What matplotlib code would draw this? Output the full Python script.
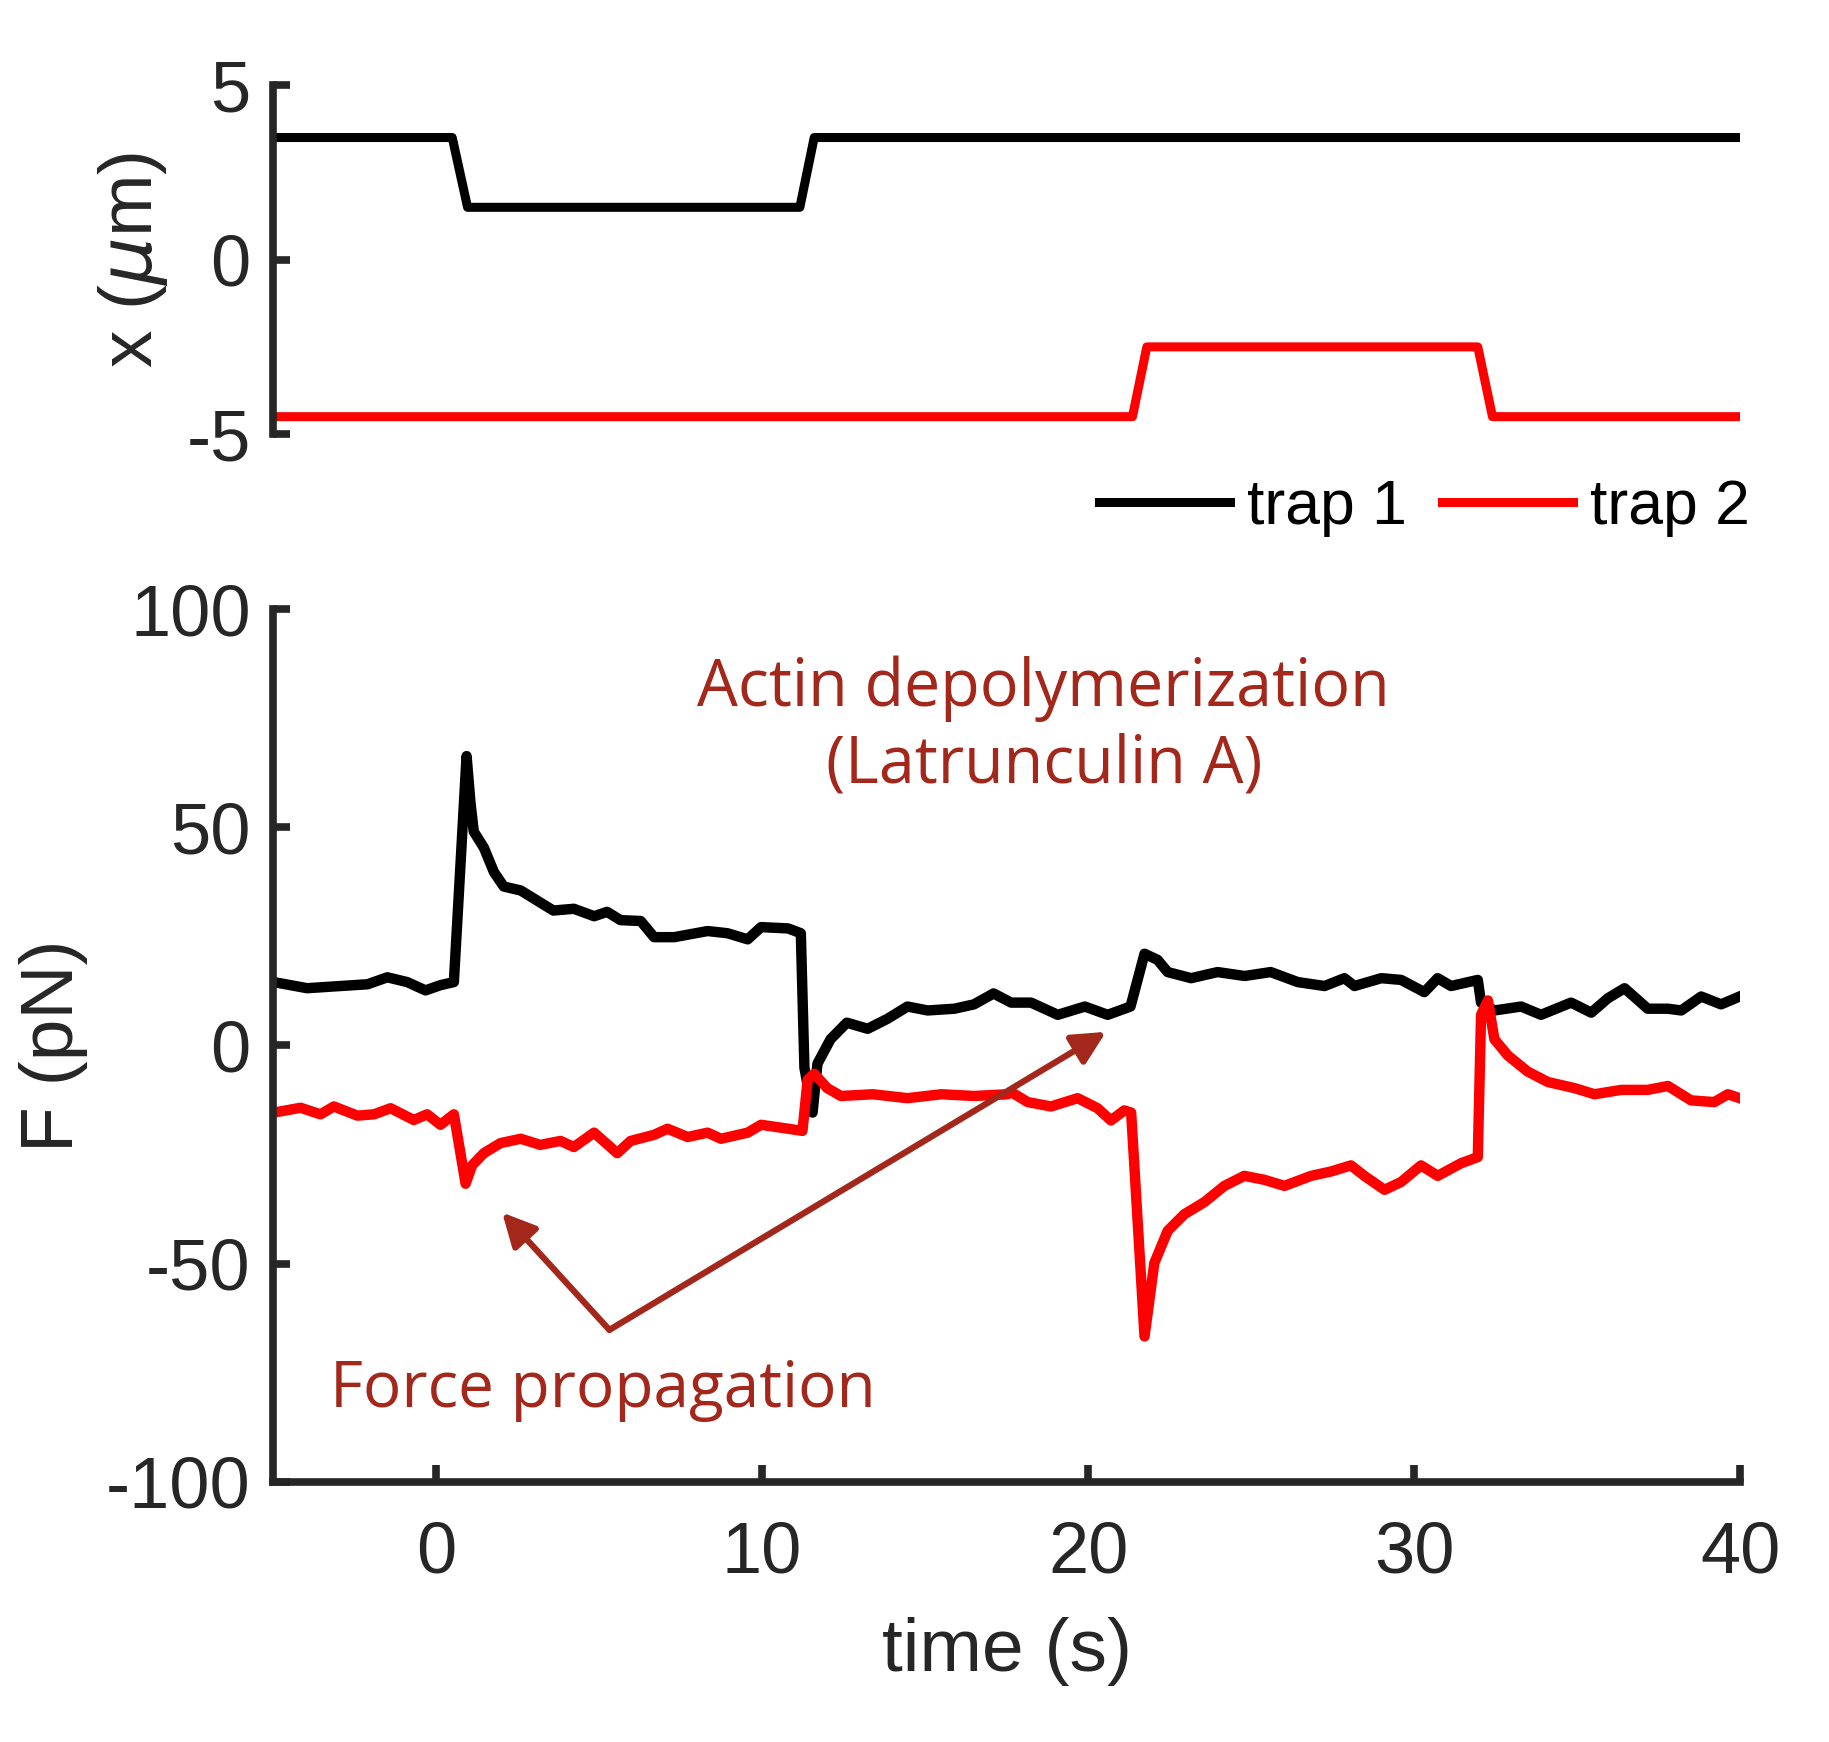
import matplotlib
matplotlib.use("Agg")
import matplotlib.pyplot as plt
import numpy as np

# ---- data ----
# trap positions (um)
t_trap1 = [-5, 0.5, 0.97, 11.16, 11.6, 40]
x_trap1 = [3.5, 3.5, 1.5, 1.5, 3.5, 3.5]
t_trap2 = [-5, 21.36, 21.8, 31.95, 32.4, 40]
x_trap2 = [-4.5, -4.5, -2.5, -2.5, -4.5, -4.5]

# force trace, trap 1 (pN)
t_f1 = [-4.97, -3.95, -2.93, -2.1, -1.49, -0.88, -0.32, 0.14, 0.55, 0.94, 1.06, 1.16,
        1.47, 1.78, 2.08, 2.6, 3.1, 3.6, 4.23, 4.85, 5.25, 5.66, 6.28, 6.69, 7.31,
        8.33, 8.94, 9.56, 9.97, 10.8, 11.19, 11.3, 11.55, 11.7, 12.1, 12.6, 13.24,
        13.85, 14.46, 15.08, 15.9, 16.5, 17.1, 17.64, 18.25, 19.07, 19.9, 20.6,
        21.3, 21.73, 22.13, 22.44, 23.16, 23.97, 24.8, 25.6, 26.43, 27.25, 27.86,
        28.17, 28.99, 29.6, 30.31, 30.72, 31.13, 31.95, 32.05, 32.46, 33.28, 33.89,
        34.81, 35.43, 35.94, 36.45, 37.16, 37.78, 38.19, 38.8, 39.41, 39.98]
f1 = [14.5, 13.1, 13.6, 14.0, 15.6, 14.5, 12.6, 13.8, 14.5, 66.3, 55.6, 49.0,
      45.3, 39.7, 36.4, 35.5, 33.2, 30.9, 31.3, 29.6, 30.6, 28.7, 28.5, 24.8, 24.8,
      26.2, 25.7, 24.3, 27.1, 26.8, 25.7, -5.1, -15.4, -4.2, 1.4, 5.2, 3.8,
      6.1, 8.9, 8.0, 8.4, 9.4, 11.9, 9.8, 9.8, 7.0, 8.9, 7.0,
      8.9, 21.0, 19.6, 16.8, 15.4, 16.8, 15.9, 16.8, 14.5, 13.6, 15.4,
      13.6, 15.4, 15.0, 12.2, 15.4, 13.6, 15.0, 9.8, 8.0, 8.9, 7.0,
      9.8, 7.5, 10.8, 13.1, 8.4, 8.4, 8.0, 11.2, 9.4, 11.2]

# force trace, trap 2 (pN)
t_f2 = [-4.97, -4.15, -3.54, -3.13, -2.41, -1.9, -1.39, -0.68, -0.27, 0.14, 0.55,
        0.91, 1.11, 1.47, 1.98, 2.6, 3.2, 3.82, 4.23, 4.85, 5.56, 5.97, 6.69, 7.1,
        7.72, 8.33, 8.74, 9.56, 9.97, 10.8, 11.24, 11.4, 11.6, 12.0, 12.42, 13.4,
        14.46, 15.5, 16.5, 17.53, 17.64, 18.15, 18.86, 19.68, 20.29, 20.7, 21.11,
        21.32, 21.73, 22.03, 22.44, 22.95, 23.57, 24.18, 24.79, 25.4, 26.02, 26.84,
        27.45, 28.06, 28.47, 29.09, 29.6, 30.21, 30.72, 31.44, 31.95, 32.05, 32.26,
        32.46, 32.87, 33.48, 34.1, 34.92, 35.53, 36.35, 37.16, 37.78, 38.49, 39.2,
        39.62, 39.98]
f2 = [-15.4, -14.3, -15.8, -14.0, -16.1, -15.8, -14.4, -17.1, -15.8, -18.2, -15.8,
      -31.7, -27.5, -24.7, -22.4, -21.4, -22.8, -21.9, -23.3, -20.0, -24.7, -21.9, -20.5, -19.1,
      -21.0, -20.0, -21.4, -20.0, -18.2, -19.1, -19.6, -7.9, -6.5, -9.8, -11.6, -11.2,
      -12.1, -11.2, -11.6, -11.2, -10.7, -13.0, -14.0, -12.1, -14.4, -17.2, -14.9,
      -15.4, -66.7, -49.9, -42.5, -38.7, -35.9, -32.2, -29.9, -30.8, -32.2, -29.9,
      -28.9, -27.5, -29.9, -33.1, -31.3, -27.5, -29.9, -27.0, -25.6, 7.0, 10.3,
      1.4, -2.3, -6.0, -8.4, -9.8, -11.2, -10.2, -10.2, -9.3, -12.6, -13.0,
      -11.2, -12.1]

x_ticks = [0, 10, 20, 30, 40]
top_yticks = [-5, 0, 5]
bot_yticks = [-100, -50, 0, 50, 100]

# ---- style ----
plt.rcParams['font.family'] = ['Liberation Sans', 'DejaVu Sans']
plt.rcParams['axes.unicode_minus'] = False
plt.rcParams['mathtext.fontset'] = 'dejavusans'
axcol = '#262626'
anno_col = '#A3271B'
fs = 52

fig = plt.figure(figsize=(18.29, 17.42), dpi=100)
ax1 = fig.add_axes([0.1492, 0.7508, 0.8023, 0.2003])
ax2 = fig.add_axes([0.1492, 0.1494, 0.8023, 0.5010])

# top panel: trap positions
ax1.plot(t_trap1, x_trap1, color='black', lw=6.5, label='trap 1', solid_joinstyle='round')
ax1.plot(t_trap2, x_trap2, color='red', lw=6.5, label='trap 2', solid_joinstyle='round')
ax1.set_xlim(-5, 40)
ax1.set_ylim(-5, 5)
ax1.set_yticks(top_yticks)
ax1.set_xticks([])
for s in ['top', 'right', 'bottom']:
    ax1.spines[s].set_visible(False)
ax1.set_ylabel(r'x ($\mu$m)', fontsize=54, color=axcol)
ax1.yaxis.set_label_coords(-0.07, 0.5)

# bottom panel: forces
ax2.plot(t_f1, f1, color='black', lw=7.5, solid_joinstyle='round')
ax2.plot(t_f2, f2, color='red', lw=7.5, solid_joinstyle='round')
ax2.set_xlim(-5, 40)
ax2.set_ylim(-100, 100)
ax2.set_xticks(x_ticks)
ax2.set_yticks(bot_yticks)
for s in ['top', 'right']:
    ax2.spines[s].set_visible(False)
ax2.set_ylabel('F (pN)', fontsize=54, color=axcol)
ax2.yaxis.set_label_coords(-0.126, 0.5)
ax2.set_xlabel('time (s)', fontsize=54, color=axcol)
ax2.xaxis.set_label_coords(0.5, -0.155)

for ax in (ax1, ax2):
    for s in ['left', 'bottom']:
        ax.spines[s].set_linewidth(5.5)
        ax.spines[s].set_color(axcol)
    ax.tick_params(direction='in', length=12, width=5.5, colors=axcol,
                   labelsize=fs, pad=16)
ax2.tick_params(axis='x', pad=28)

# legend under the top panel
fig.legend(loc='center right', bbox_to_anchor=(0.957, 0.7086), ncol=2,
           frameon=False, fontsize=45, handlelength=2.1, handletextpad=0.28,
           columnspacing=0.55, borderpad=0, borderaxespad=0)

# annotations
anno_font = ['Open Sans', 'DejaVu Sans']
ax2.text(18.64, 73, 'Actin depolymerization\n(Latrunculin A)', ha='center', va='center',
         fontsize=46.5, color=anno_col, family=anno_font, linespacing=1.2)
ax2.text(-3.25, -78.9, 'Force propagation', ha='left', va='center',
         fontsize=46, color=anno_col, family=anno_font)
apro = dict(arrowstyle='-|>', color=anno_col, lw=4.5, mutation_scale=50,
            shrinkA=0, shrinkB=0)
ax2.annotate('', xy=(2.03, -38.3), xytext=(5.32, -65.2), arrowprops=apro)
ax2.annotate('', xy=(20.55, 3.1), xytext=(5.32, -65.2), arrowprops=apro)

fig.savefig('out.png', dpi=100)
